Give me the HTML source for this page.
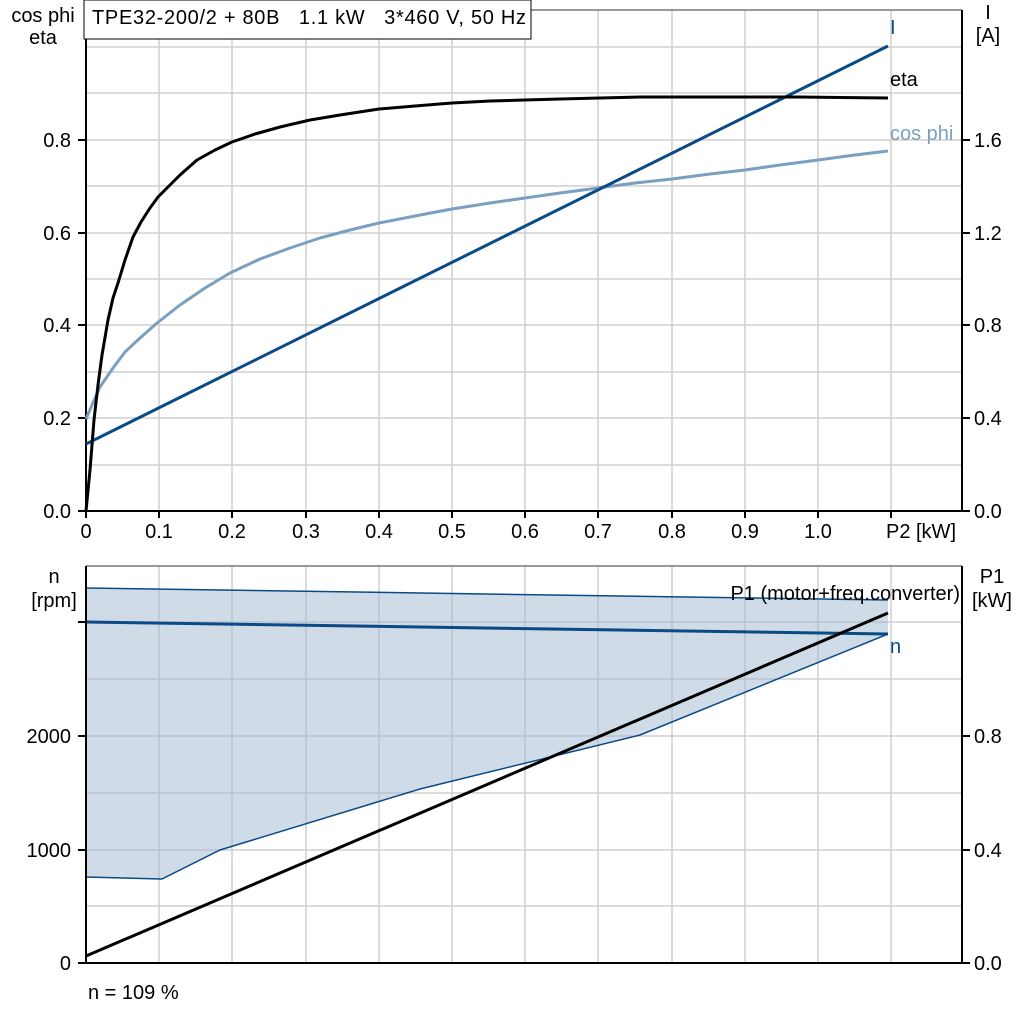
<!DOCTYPE html>
<html><head><meta charset="utf-8"><style>
html,body{margin:0;padding:0;background:#fff}
svg{display:block}
text{font-family:"Liberation Sans",Arial,sans-serif;font-size:20px;fill:#000;white-space:pre}
</style></head><body>
<svg width="1024" height="1024" viewBox="0 0 1024 1024" xmlns="http://www.w3.org/2000/svg" xml:space="preserve">
<g stroke="#cfcfcf" stroke-width="1.5">
<line x1="159" y1="10" x2="159" y2="511"/><line x1="232" y1="10" x2="232" y2="511"/>
<line x1="306" y1="10" x2="306" y2="511"/><line x1="379" y1="10" x2="379" y2="511"/>
<line x1="452" y1="10" x2="452" y2="511"/><line x1="525" y1="10" x2="525" y2="511"/>
<line x1="598" y1="10" x2="598" y2="511"/><line x1="672" y1="10" x2="672" y2="511"/>
<line x1="745" y1="10" x2="745" y2="511"/><line x1="818" y1="10" x2="818" y2="511"/>
<line x1="891" y1="10" x2="891" y2="511"/>
<line x1="86" y1="47" x2="962" y2="47"/><line x1="86" y1="93" x2="962" y2="93"/>
<line x1="86" y1="140" x2="962" y2="140"/><line x1="86" y1="186" x2="962" y2="186"/>
<line x1="86" y1="233" x2="962" y2="233"/><line x1="86" y1="279" x2="962" y2="279"/>
<line x1="86" y1="325" x2="962" y2="325"/><line x1="86" y1="372" x2="962" y2="372"/>
<line x1="86" y1="418" x2="962" y2="418"/><line x1="86" y1="465" x2="962" y2="465"/>
</g>
<line x1="86" y1="10" x2="962" y2="10" stroke="#777" stroke-width="1.5"/>
<g stroke="#000" stroke-width="2" fill="none">
<line x1="86" y1="10" x2="86" y2="512"/><line x1="962" y1="10" x2="962" y2="512"/>
<line x1="85" y1="511" x2="963" y2="511"/>
<line x1="78" y1="140" x2="86" y2="140"/><line x1="78" y1="233" x2="86" y2="233"/>
<line x1="78" y1="325" x2="86" y2="325"/><line x1="78" y1="418" x2="86" y2="418"/>
<line x1="78" y1="511" x2="86" y2="511"/>
<line x1="962" y1="140" x2="970" y2="140"/><line x1="962" y1="233" x2="970" y2="233"/>
<line x1="962" y1="325" x2="970" y2="325"/><line x1="962" y1="418" x2="970" y2="418"/>
<line x1="962" y1="511" x2="970" y2="511"/>
<line x1="86" y1="511" x2="86" y2="518"/><line x1="159" y1="511" x2="159" y2="518"/>
<line x1="232" y1="511" x2="232" y2="518"/><line x1="306" y1="511" x2="306" y2="518"/>
<line x1="379" y1="511" x2="379" y2="518"/><line x1="452" y1="511" x2="452" y2="518"/>
<line x1="525" y1="511" x2="525" y2="518"/><line x1="598" y1="511" x2="598" y2="518"/>
<line x1="672" y1="511" x2="672" y2="518"/><line x1="745" y1="511" x2="745" y2="518"/>
<line x1="818" y1="511" x2="818" y2="518"/><line x1="891" y1="511" x2="891" y2="518"/>
</g>
<rect x="84" y="0" width="447" height="39" fill="#fff" stroke="#000" stroke-width="1"/>
<text x="92" y="24" textLength="434" lengthAdjust="spacing">TPE32-200/2 + 80B   1.1 kW   3*460 V, 50 Hz</text>
<text x="43" y="22" text-anchor="middle">cos phi</text>
<text x="43" y="44" text-anchor="middle">eta</text>
<text x="988" y="19" text-anchor="middle">I</text>
<text x="988" y="42" text-anchor="middle">[A]</text>
<g text-anchor="end">
<text x="71" y="147">0.8</text><text x="71" y="240">0.6</text><text x="71" y="332">0.4</text>
<text x="71" y="425">0.2</text><text x="71" y="518">0.0</text>
</g>
<g>
<text x="974" y="147">1.6</text><text x="974" y="240">1.2</text><text x="974" y="332">0.8</text>
<text x="974" y="425">0.4</text><text x="974" y="518">0.0</text>
</g>
<g text-anchor="middle">
<text x="86" y="538">0</text><text x="159" y="538">0.1</text><text x="232" y="538">0.2</text>
<text x="306" y="538">0.3</text><text x="379" y="538">0.4</text><text x="452" y="538">0.5</text>
<text x="525" y="538">0.6</text><text x="598" y="538">0.7</text><text x="672" y="538">0.8</text>
<text x="745" y="538">0.9</text><text x="818" y="538">1.0</text><text x="921" y="538">P2 [kW]</text>
</g>
<polyline fill="none" stroke="#7a9fc0" stroke-width="3" stroke-linejoin="round" points="86,419 92,405 100,387 113,368 125,352 140,338 157,323 180,305 205,288 230,273 260,259 290,248 320,238 350,230 379,223 415,216 452,209 490,203 525,198 560,193 598,188 635,183 672,179 710,174 745,170 780,165 818,160 855,155 888,151"/>
<line x1="86" y1="444" x2="888" y2="46" stroke="#0a4a85" stroke-width="3"/>
<polyline fill="none" stroke="#000" stroke-width="3" stroke-linejoin="round" points="86,511 90,470 94,420 98,385 102,355 108,320 113,298 118,283 125,260 133,237 141,222 150,208 158,197 167,188 180,175 197,160 215,150 232,142 255,134 280,127 310,120 340,115 379,109 415,106 452,103 490,101 525,100 560,99 600,98 640,97 672,97 720,97 760,97 800,97 840,97.5 888,98"/>
<text x="890" y="34" style="fill:#0a4a85">I</text>
<text x="890" y="86">eta</text>
<text x="890" y="140" style="fill:#7a9fc0">cos phi</text>

<g stroke="#cfcfcf" stroke-width="1.5">
<line x1="159" y1="566" x2="159" y2="963"/><line x1="232" y1="566" x2="232" y2="963"/>
<line x1="306" y1="566" x2="306" y2="963"/><line x1="379" y1="566" x2="379" y2="963"/>
<line x1="452" y1="566" x2="452" y2="963"/><line x1="525" y1="566" x2="525" y2="963"/>
<line x1="598" y1="566" x2="598" y2="963"/><line x1="672" y1="566" x2="672" y2="963"/>
<line x1="745" y1="566" x2="745" y2="963"/><line x1="818" y1="566" x2="818" y2="963"/>
<line x1="891" y1="566" x2="891" y2="963"/>
<line x1="86" y1="622" x2="962" y2="622"/><line x1="86" y1="679" x2="962" y2="679"/>
<line x1="86" y1="736" x2="962" y2="736"/><line x1="86" y1="793" x2="962" y2="793"/>
<line x1="86" y1="850" x2="962" y2="850"/><line x1="86" y1="906" x2="962" y2="906"/>
</g>
<polygon fill="rgba(160,185,210,0.5)" points="86,588 888,600 888,634 640,735 420,789 220,850 162,879 86,877"/>
<polyline fill="none" stroke="#0a4a85" stroke-width="1.5" points="86,588 888,600"/>
<polyline fill="none" stroke="#0a4a85" stroke-width="1.5" points="888,634 640,735 420,789 220,850 162,879 86,877"/>
<line x1="86" y1="622" x2="888" y2="634" stroke="#0a4a85" stroke-width="3"/>
<line x1="86" y1="956" x2="888" y2="613" stroke="#000" stroke-width="3"/>
<line x1="86" y1="566" x2="962" y2="566" stroke="#777" stroke-width="1.5"/>
<g stroke="#000" stroke-width="2">
<line x1="86" y1="566" x2="86" y2="964"/><line x1="962" y1="566" x2="962" y2="964"/>
<line x1="85" y1="963" x2="963" y2="963"/>
<line x1="78" y1="622" x2="86" y2="622"/><line x1="78" y1="736" x2="86" y2="736"/>
<line x1="78" y1="850" x2="86" y2="850"/><line x1="78" y1="963" x2="86" y2="963"/>
<line x1="962" y1="736" x2="970" y2="736"/><line x1="962" y1="850" x2="970" y2="850"/>
<line x1="962" y1="963" x2="970" y2="963"/>
</g>
<text x="54" y="583" text-anchor="middle">n</text>
<text x="54" y="607" text-anchor="middle">[rpm]</text>
<text x="992" y="583" text-anchor="middle">P1</text>
<text x="992" y="607" text-anchor="middle">[kW]</text>
<g text-anchor="end">
<text x="71" y="743">2000</text><text x="71" y="857">1000</text><text x="71" y="970">0</text>
</g>
<text x="974" y="743">0.8</text><text x="974" y="857">0.4</text><text x="974" y="970">0.0</text>
<text x="960" y="600" text-anchor="end">P1 (motor+freq.converter)</text>
<text x="890" y="653" style="fill:#0a4a85">n</text>
<text x="88" y="999">n = 109 %</text>
</svg>
</body></html>
